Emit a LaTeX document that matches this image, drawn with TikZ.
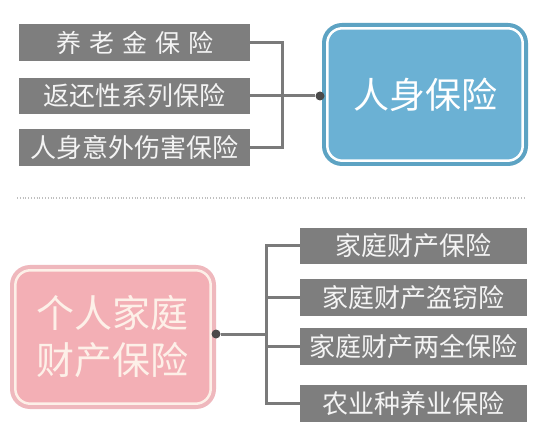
\documentclass[tikz,border=0pt]{standalone}
\usepackage{fontspec}
\setmainfont{Noto Sans CJK SC}
\definecolor{boxgray}{HTML}{7E7E7E}
\definecolor{conngray}{HTML}{7A7A7A}
\definecolor{dotgray}{HTML}{4A4A4A}
\definecolor{blueout}{HTML}{5DA3C3}
\definecolor{bluein}{HTML}{6BB1D4}
\definecolor{pinkout}{HTML}{EFB8BD}
\definecolor{pinkin}{HTML}{F3AFB5}
\definecolor{pinkring}{HTML}{FDF0E8}
\definecolor{txtw}{HTML}{F4F4F4}
\tikzset{
  graybox/.style={fill=boxgray, text=txtw, inner sep=0pt, minimum height=37pt,
    font=\fontsize{26}{30}\selectfont},
  conn/.style={draw=conngray, line width=3pt},
  jdot/.style={circle, fill=dotgray, inner sep=0pt, minimum size=9pt},
  bigtext/.style={text=white, align=center},
}
\begin{document}
\begin{tikzpicture}[x=1pt,y=-1pt]
\useasboundingbox[fill=white] (0,0) rectangle (554,446);

% ---------- top group ----------
\node[graybox, minimum width=231pt, font=\fontsize{25}{30}\selectfont] (a1) at (134.5,42.5) {养\hspace{8pt}老\hspace{8pt}金\hspace{8pt}保\hspace{8pt}险};
\node[graybox, minimum width=231pt, minimum height=36pt] (a2) at (134.5,96) {返还性系列保险};
\node[graybox, minimum width=231pt] (a3) at (134.5,147.5) {人身意外伤害保险};

\node[fill=blueout, rounded corners=20pt, minimum width=206pt, minimum height=143pt, inner sep=0pt] (p1) at (425,94.5) {};
\draw[white, line width=2.5pt, fill=bluein, rounded corners=15pt]
  ([xshift=5.5pt,yshift=-5.5pt]p1.north west) rectangle ([xshift=-5.5pt,yshift=5.5pt]p1.south east);
\node[bigtext, font=\fontsize{36}{40}\selectfont] (p1t) at (p1.center) {人身保险};

\coordinate (ja) at (282,96);
\node[jdot] (d1) at (320,96) {};
\draw[conn] (a1.east) -- (a1.east -| ja) -- (a3.east -| ja) -- (a3.east);
\draw[conn] (a2.east) -- (d1);

% ---------- separator ----------
\coordinate (s1) at (17,198);
\coordinate (s2) at (525,198);
\draw[draw=gray!50, line width=1.2pt, dash pattern=on 1pt off 1.8pt] (s1) -- (s2);

% ---------- bottom group ----------
\node[fill=pinkout, rounded corners=20pt, minimum width=206pt, minimum height=144pt, inner sep=0pt] (p2) at (113,337) {};
\draw[pinkring, line width=2.5pt, fill=pinkin, rounded corners=15pt]
  ([xshift=5.5pt,yshift=-5.5pt]p2.north west) rectangle ([xshift=-5.5pt,yshift=5.5pt]p2.south east);
\node[bigtext, font=\fontsize{38}{47}\selectfont, text=pinkring] (p2t) at ([xshift=-1pt]p2.center) {个人家庭\\财产保险};

\node[graybox, minimum width=227pt, minimum height=36pt] (b1) at (413.5,246) {家庭财产保险};
\node[graybox, minimum width=227pt] (b2) at (413.5,297.5) {家庭财产盗窃险};
\node[graybox, minimum width=227pt] (b3) at (413.5,346.5) {家庭财产两全保险};
\node[graybox, minimum width=227pt] (b4) at (413.5,403.5) {农业种养业保险};

\coordinate (jb) at (266,334);
\node[jdot] (d2) at (216,334) {};
\draw[conn] (b1.west) -- (b1.west -| jb) -- (b4.west -| jb) -- (b4.west);
\draw[conn] (b2.west) -- (b2.west -| jb);
\draw[conn] (b3.west) -- (b3.west -| jb);
\draw[conn] (d2) -- (jb);
\end{tikzpicture}
\end{document}
